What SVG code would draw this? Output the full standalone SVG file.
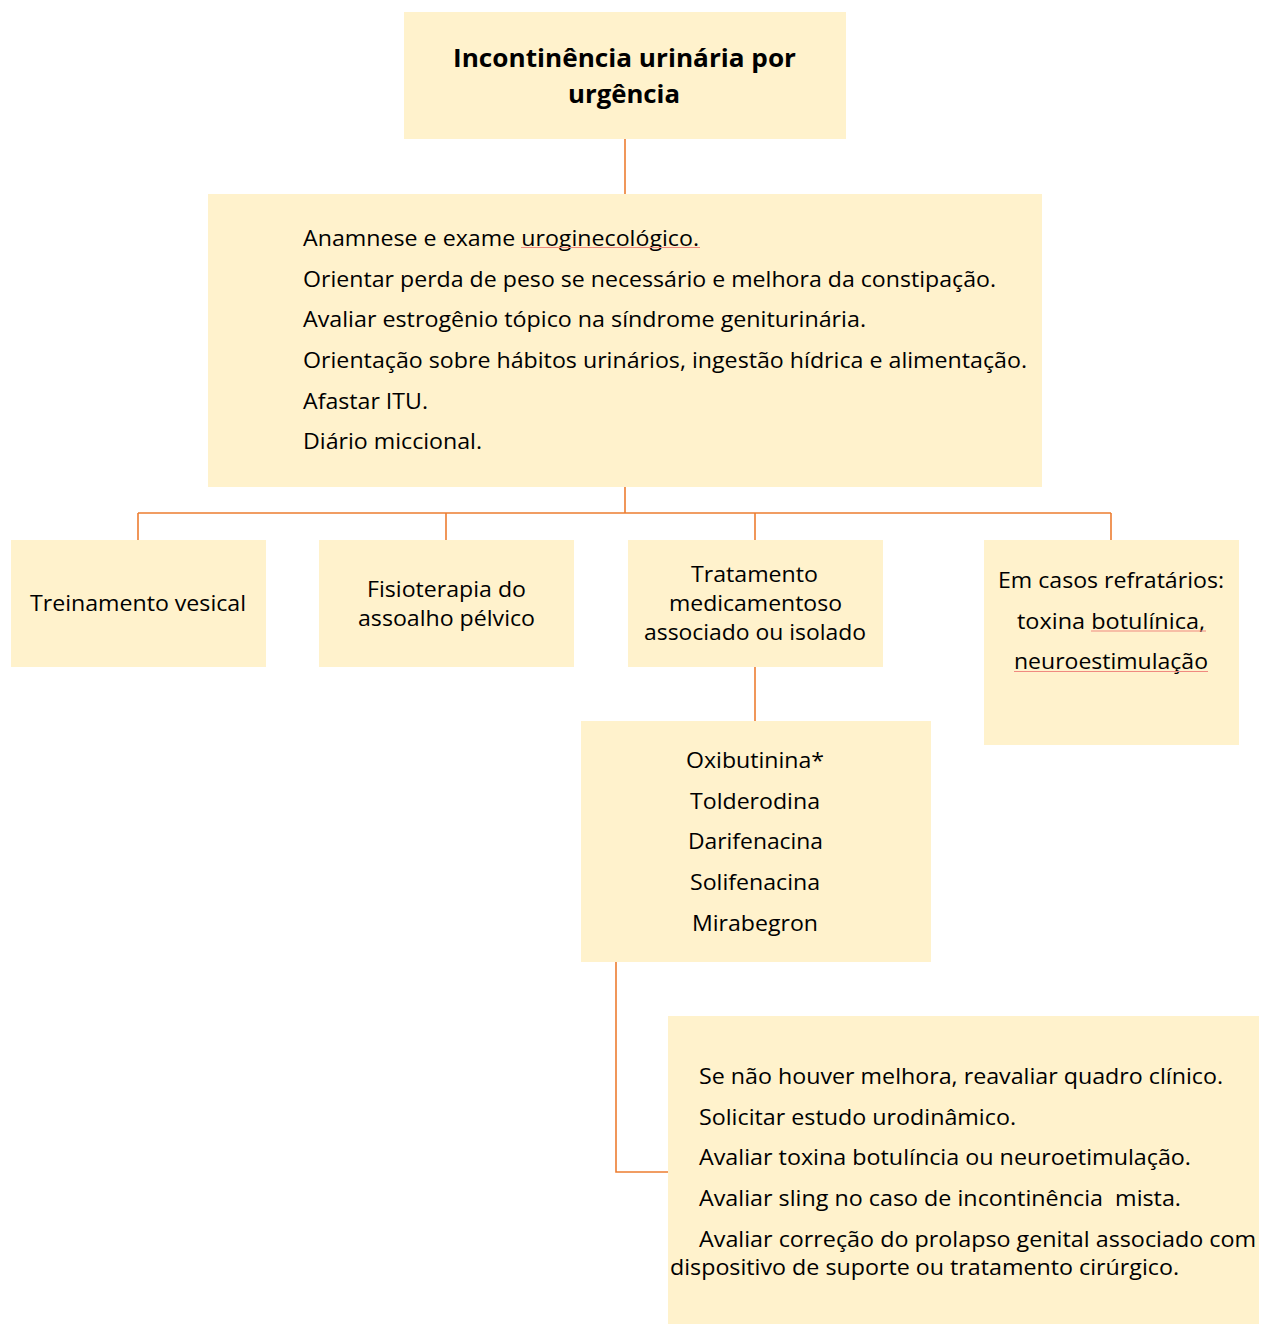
<svg xmlns="http://www.w3.org/2000/svg" width="1262" height="1324" viewBox="0 0 1262 1324">
<style>
.box{fill:#FFF2CC;stroke:none}
.t{font-family:"Open Sans","Liberation Sans",sans-serif;font-size:22px;fill:#000}
.b{font-family:"Open Sans","Liberation Sans",sans-serif;font-size:25px;font-weight:bold;fill:#000}
.c{stroke:#ED7D31;stroke-width:1.6;fill:none}
.sq{stroke:#F08A80;stroke-width:1;fill:none}
</style>
<rect width="1262" height="1324" fill="#ffffff"/>
<g id="connectors">
<path class="c" d="M625 139V194"/>
<path class="c" d="M625 487V513M138 513H1111M138 513V540M446 513V540M755 513V540M1111 513V540"/>
<path class="c" d="M755 667V721"/>
<path class="c" d="M616 962V1172H668"/>
</g>
<g id="title">
<rect class="box" x="404" y="12" width="442" height="127"/>
<text class="b" x="453" y="67" textLength="343" lengthAdjust="spacingAndGlyphs">Incontinência urinária por</text>
<text class="b" x="568" y="103" textLength="112" lengthAdjust="spacingAndGlyphs">urgência</text>
</g>
<g id="avaliacao">
<rect class="box" x="208" y="194" width="834" height="293"/>
<text class="t" x="303" y="245.5" textLength="396" lengthAdjust="spacingAndGlyphs">Anamnese e exame uroginecológico.</text>
<path class="sq" d="M521 247.5H700"/>
<text class="t" x="303" y="286.5" textLength="693" lengthAdjust="spacingAndGlyphs">Orientar perda de peso se necessário e melhora da constipação.</text>
<text class="t" x="303" y="327" textLength="563" lengthAdjust="spacingAndGlyphs">Avaliar estrogênio tópico na síndrome geniturinária.</text>
<text class="t" x="303" y="367.5" textLength="724" lengthAdjust="spacingAndGlyphs">Orientação sobre hábitos urinários, ingestão hídrica e alimentação.</text>
<text class="t" x="303" y="408.5" textLength="125" lengthAdjust="spacingAndGlyphs">Afastar ITU.</text>
<text class="t" x="303" y="449" textLength="179" lengthAdjust="spacingAndGlyphs">Diário miccional.</text>
</g>
<g id="treinamento">
<rect class="box" x="11" y="540" width="255" height="127"/>
<text class="t" x="30" y="611" textLength="216" lengthAdjust="spacingAndGlyphs">Treinamento vesical</text>
</g>
<g id="fisioterapia">
<rect class="box" x="319" y="540" width="255" height="127"/>
<text class="t" x="367" y="597" textLength="159" lengthAdjust="spacingAndGlyphs">Fisioterapia do</text>
<text class="t" x="358" y="626" textLength="177" lengthAdjust="spacingAndGlyphs">assoalho pélvico</text>
</g>
<g id="medicamentoso">
<rect class="box" x="628" y="540" width="255" height="127"/>
<text class="t" x="691" y="582" textLength="127" lengthAdjust="spacingAndGlyphs">Tratamento</text>
<text class="t" x="669" y="610.5" textLength="173" lengthAdjust="spacingAndGlyphs">medicamentoso</text>
<text class="t" x="644" y="639.5" textLength="222" lengthAdjust="spacingAndGlyphs">associado ou isolado</text>
</g>
<g id="refratarios">
<rect class="box" x="984" y="540" width="255" height="205"/>
<text class="t" x="998" y="587.5" textLength="226" lengthAdjust="spacingAndGlyphs">Em casos refratários:</text>
<text class="t" x="1017" y="628.5" textLength="188" lengthAdjust="spacingAndGlyphs">toxina botulínica,</text>
<path class="sq" d="M1091 631H1206"/>
<text class="t" x="1014" y="669" textLength="194" lengthAdjust="spacingAndGlyphs">neuroestimulação</text>
<path class="sq" d="M1014 671.5H1208"/>
</g>
<g id="farmacos">
<rect class="box" x="581" y="721" width="350" height="241"/>
<text class="t" x="686" y="768" textLength="138" lengthAdjust="spacingAndGlyphs">Oxibutinina*</text>
<text class="t" x="690" y="808.5" textLength="130" lengthAdjust="spacingAndGlyphs">Tolderodina</text>
<text class="t" x="688" y="849" textLength="135" lengthAdjust="spacingAndGlyphs">Darifenacina</text>
<text class="t" x="690" y="890" textLength="130" lengthAdjust="spacingAndGlyphs">Solifenacina</text>
<text class="t" x="692" y="930.5" textLength="126" lengthAdjust="spacingAndGlyphs">Mirabegron</text>
</g>
<g id="reavaliar">
<rect class="box" x="668" y="1016" width="591" height="308"/>
<text class="t" x="699" y="1084" textLength="524" lengthAdjust="spacingAndGlyphs">Se não houver melhora, reavaliar quadro clínico.</text>
<text class="t" x="699" y="1125" textLength="317" lengthAdjust="spacingAndGlyphs">Solicitar estudo urodinâmico.</text>
<text class="t" x="699" y="1165" textLength="492" lengthAdjust="spacingAndGlyphs">Avaliar toxina botulíncia ou neuroetimulação.</text>
<text class="t" x="699" y="1205.5" textLength="482" lengthAdjust="spacingAndGlyphs" style="white-space:pre">Avaliar sling no caso de incontinência  mista.</text>
<text class="t" x="699" y="1246.5" textLength="557" lengthAdjust="spacingAndGlyphs">Avaliar correção do prolapso genital associado com</text>
<text class="t" x="670" y="1275" textLength="509" lengthAdjust="spacingAndGlyphs">dispositivo de suporte ou tratamento cirúrgico.</text>
</g>
</svg>
